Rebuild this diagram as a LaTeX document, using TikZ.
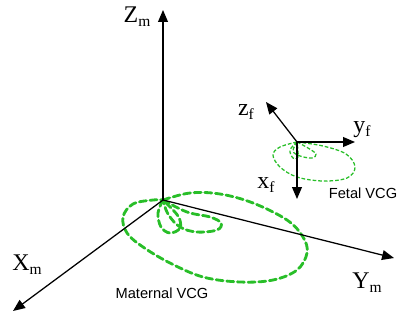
\documentclass[tikz,border=0pt]{standalone}
\usepackage{fontspec}
\setmainfont{Liberation Serif}
\setsansfont{Liberation Sans}
\usetikzlibrary{arrows.meta}
\definecolor{vcggreen}{RGB}{40,190,40}
\newcommand{\axsub}[1]{\raisebox{-0.35ex}{\fontsize{11}{13}\selectfont #1}}
\tikzset{
  axis/.style   ={-{Triangle[length=8.5pt,width=7pt]}, line width=0.9pt, black},
  axlabel/.style={inner sep=0pt, font=\fontsize{17}{19}\selectfont},
  vcglabel/.style={inner sep=0pt, font=\sffamily\fontsize{10.4}{12}\selectfont},
  vcgbig/.style ={vcggreen, line width=2pt, dash pattern=on 5pt off 2.6pt, line cap=round},
  vcgsmall/.style={vcggreen, line width=0.9pt, dash pattern=on 2.6pt off 1.4pt},
}
\begin{document}
\begin{tikzpicture}[x=0.025cm, y=-0.025cm]
  \useasboundingbox (0,0) rectangle (398,320);
  % maternal frame
  \coordinate (Om) at (163,200);
  \coordinate (Zmt) at (163,10);
  \coordinate (Ymt) at (394,258);
  \coordinate (Xmt) at (13,311);
  % maternal VCG loops
  \draw[vcgbig] plot[smooth, tension=0.6] coordinates {(Om) (190,193) (220,194) (253,203) (287,220)
    (303,237) (307,253) (297,270) (273,280) (240,282) (203,277) (170,263) (143,247)
    (127,233) (123,217) (133,204) (153,200) (Om)};
  \draw[vcgbig] plot[smooth, tension=0.6] coordinates {(Om) (187,212) (210,217) (221,223)
    (217,230) (197,232) (180,227) (168,214) (Om)};
  \draw[vcgbig] plot[smooth, tension=0.6] coordinates {(Om) (158,213) (161,227) (170,233)
    (180,228) (178,216) (Om)};
  \draw[axis] (Om) -- (Zmt);
  \draw[axis] (Om) -- (Ymt);
  \draw[axis] (Om) -- (Xmt);
  \node[axlabel] (zm) at (137,17) {Z\axsub{m}};
  \node[axlabel] (ym) at (367,283) {Y\axsub{m}};
  \node[axlabel] (xm) at (27,265) {X\axsub{m}};
  \node[vcglabel] (mvcg) at (162,293) {Maternal VCG};
  % fetal frame
  \coordinate (Of) at (297,142);
  \coordinate (zft) at (266,102);
  \coordinate (yft) at (355,142);
  \coordinate (xft) at (297,199);
  \draw[vcgsmall] plot[smooth, tension=0.6] coordinates {(Of) (323,146) (346,154) (355,167)
    (347,178) (323,181) (297,177) (280,167) (273,155) (280,147) (Of)};
  \draw[vcgsmall] plot[smooth, tension=0.6] coordinates {(Of) (308,148) (316,154) (312,158)
    (300,156) (293,151) (Of)};
  \draw[vcgsmall] plot[smooth, tension=0.6] coordinates {(Of) (290,150) (293,158) (298,157) (Of)};
  \draw[axis] (Of) -- (zft);
  \draw[axis] (Of) -- (yft);
  \draw[axis] (Of) -- (xft);
  \node[axlabel] (zf) at (246,112) {z\axsub{f}};
  \node[axlabel] (yf) at (362,130) {y\axsub{f}};
  \node[axlabel] (xf) at (266,185) {x\axsub{f}};
  \node[vcglabel] (fvcg) at (363,193) {Fetal VCG};
\end{tikzpicture}
\end{document}
